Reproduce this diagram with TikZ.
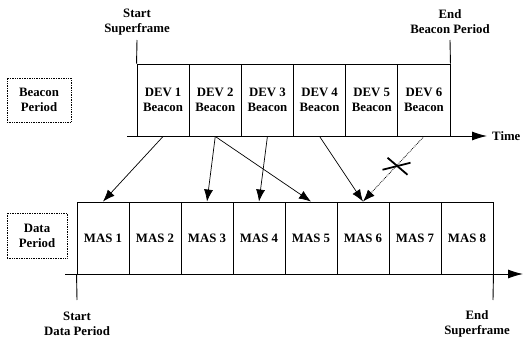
\documentclass[tikz,border=0pt]{standalone}
\usepackage{fontspec}
\setmainfont{Liberation Serif}
\usetikzlibrary{arrows.meta,calc}
\begin{document}
\begin{tikzpicture}[x=1pt,y=-1pt,
  lbl/.style={font=\fontsize{12.8}{15}\selectfont\bfseries, align=center, inner sep=0pt},
  slot/.style={draw, line width=0.9pt, minimum width=52.17pt, minimum height=72pt, inner sep=0pt, lbl},
  mslot/.style={draw, line width=0.9pt, minimum width=52pt, minimum height=72pt, inner sep=0pt, lbl},
  legend/.style={draw, densely dotted, line width=0.7pt, inner sep=0pt, lbl},
  axis/.style={line width=0.9pt, -{Latex[length=15pt,width=9pt]}},
  tick/.style={line width=0.9pt},
  link/.style={line width=0.7pt, -{Latex[length=12pt,width=9pt]}},
  blocked/.style={line width=0.8pt, densely dotted, -{Latex[length=12pt,width=9pt]}},
  cross/.style={line width=1.8pt}]
\useasboundingbox[fill=white] (0,0) rectangle (525,340);
% beacon period slots
\foreach \i in {1,...,6}{
  \node[slot] (d\i) at ({137+52.17*(\i-0.5)},100) {DEV \i\\Beacon};
}
% data period slots
\foreach \i in {1,...,8}{
  \node[mslot] (m\i) at ({77+52*(\i-0.5)},238) {MAS \i};
}
% time axes
\coordinate (ta) at (127,136);
\coordinate (tb) at (487,136);
\draw[axis] (ta) -- (tb);
\node[lbl, anchor=west] (time) at (492,136) {Time};
\coordinate (da) at (65,274);
\coordinate (db) at (523,274);
\draw[axis] (da) -- (db);
% ticks and labels
\coordinate (s1) at (137,40);
\draw[tick] (s1) -- (d1.north west);
\node[lbl] (startsf) at (137,22) {Start\\Superframe};
\coordinate (e1) at (450,40);
\draw[tick] (e1) -- (d6.north east);
\node[lbl] (endbp) at (450,22) {End\\Beacon Period};
\coordinate (s2) at (77,300);
\draw[tick] (m1.south west) -- (s2);
\node[lbl] (startdp) at (77,324) {Start\\Data Period};
\coordinate (e2) at (493,300);
\draw[tick] (m8.south east) -- (e2);
\node[lbl] (endsf) at (477,324) {End\\Superframe};
% legend boxes
\node[legend, minimum width=64pt, minimum height=44pt] (bp) at (39,100) {Beacon\\Period};
\node[legend, minimum width=60pt, minimum height=45pt] (dp) at (37,235.5) {Data\\Period};
% allocation links
\draw[link] (d1.south) -- (m1.north);
\draw[link] (d2.south) -- (m3.north);
\draw[link] (d2.south) -- (m5.north);
\draw[link] (d3.south) -- (m4.north);
\draw[link] (d4.south) -- (m6.north);
\draw[blocked] (d6.south) -- coordinate[pos=0.45] (x) (m6.north);
\draw[cross] ($(x)+(-9,-8)$) -- ($(x)+(11,9)$);
\draw[cross] ($(x)+(-14,4)$) -- ($(x)+(14,-3)$);
\end{tikzpicture}
\end{document}
